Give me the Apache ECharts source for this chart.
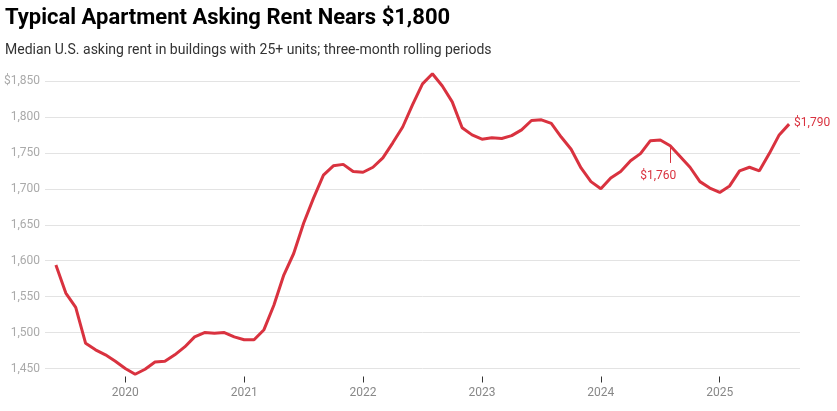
<!DOCTYPE html>
<html>
<head>
<meta charset="utf-8">
<script src="https://cdn.jsdelivr.net/npm/echarts@6/dist/echarts.min.js"></script>
<style>
  html, body { margin: 0; padding: 0; background: #fff; }
  #chart { width: 837px; height: 411px; }
</style>
</head>
<body>
<div id="chart"></div>
<script>
// Months counted from January 2020 (0 = Jan 2020); first period is June 2019
const startMonthIndex = -7;
const rentValues = [
  1594, 1555, 1535, 1485, 1476, 1469, 1460,
  1450, 1442, 1449, 1459, 1460, 1469, 1480, 1494, 1500, 1499, 1500, 1494,
  1490, 1490, 1504, 1538, 1580, 1610, 1652, 1687, 1719, 1732, 1734, 1724,
  1723, 1730, 1743, 1764, 1786, 1817, 1846, 1860, 1843, 1821, 1785, 1775,
  1769, 1771, 1770, 1774, 1782, 1795, 1796, 1791, 1772, 1755, 1729, 1710,
  1700, 1715, 1724, 1739, 1749, 1767, 1768, 1760, 1745, 1730, 1710, 1701,
  1695, 1704, 1725, 1730, 1725, 1749, 1775, 1790
];
const yearTickMonths = [0, 12, 24, 36, 48, 60];
const yearTickLabels = ['2020', '2021', '2022', '2023', '2024', '2025'];
const yTicks = [1450, 1500, 1550, 1600, 1650, 1700, 1750, 1800, 1850];
const annotatedMonth = 55;   // Aug 2024
const annotatedLabel = '$1,760';
const lastLabel = '$1,790';

const RED = '#d9323f';
const lastIdx = rentValues.length - 1;
const seriesData = rentValues.map((v, i) => {
  const m = startMonthIndex + i;
  const item = { value: [m, v] };
  if (i === lastIdx) {
    item.label = { show: true, position: 'right', distance: 5, formatter: lastLabel,
      color: RED, fontSize: 12, fontFamily: 'Roboto', offset: [0, -1] };
  }
  if (m === annotatedMonth) {
    item.label = { show: true, position: 'bottom', distance: 24, formatter: annotatedLabel,
      color: RED, fontSize: 12, fontFamily: 'Roboto', offset: [-12, 0] };
  }
  return item;
});

const chart = echarts.init(document.getElementById('chart'), null, { renderer: 'canvas' });
chart.setOption({
  animation: false,
  backgroundColor: '#ffffff',
  title: [
    { text: 'Typical Apartment Asking Rent Nears $1,800', left: 0, top: 2,
      textStyle: { fontFamily: 'Roboto', fontWeight: 'bold', fontSize: 22, color: '#000' } },
    { text: 'Median U.S. asking rent in buildings with 25+ units; three-month rolling periods', left: 0, top: 38,
      textStyle: { fontFamily: 'Roboto', fontWeight: 'normal', fontSize: 14, color: '#333' } }
  ],
  grid: { left: 45, right: 37, top: 81, bottom: 42.5, containLabel: false },
  xAxis: {
    type: 'value', min: -8.1, max: 68.1,
    offset: 8,
    axisLine: { show: false },
    axisTick: { show: true, customValues: yearTickMonths, length: 6, lineStyle: { color: '#333', width: 1 } },
    axisLabel: { customValues: yearTickMonths, margin: 10, color: '#888', fontSize: 12, fontFamily: 'Roboto',
      formatter: (v) => yearTickLabels[yearTickMonths.indexOf(Math.round(v))] || '' },
    splitLine: { show: false }
  },
  yAxis: {
    type: 'value', min: yTicks[0], max: yTicks[yTicks.length - 1], interval: 50,
    axisLine: { show: false }, axisTick: { show: false },
    axisLabel: { margin: 5, color: '#aaa', fontSize: 12, fontFamily: 'Roboto',
      formatter: (v) => (v === yTicks[yTicks.length - 1] ? '$' : '') + v.toLocaleString('en-US') },
    splitLine: { lineStyle: { color: '#e3e3e3', width: 1 } }
  },
  series: [{
    type: 'line', data: seriesData, symbol: 'circle', symbolSize: 0.01, showSymbol: true, showAllSymbol: true,
    clip: false,
    lineStyle: { color: RED, width: 3 },
    itemStyle: { color: RED },
    markLine: {
      silent: true, symbol: 'none', label: { show: false },
      lineStyle: { color: RED, width: 1, type: 'solid' },
      data: [[ { coord: [annotatedMonth, 1758] }, { coord: [annotatedMonth, 1736] } ]]
    }
  }]
});
</script>
</body>
</html>
